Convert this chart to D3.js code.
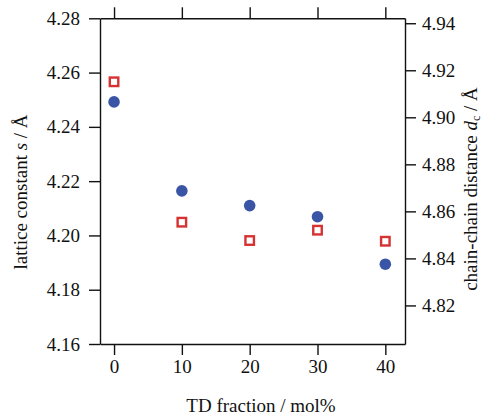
<!DOCTYPE html>
<html>
<head>
<meta charset="utf-8">
<script src="https://cdn.jsdelivr.net/npm/d3@7"></script>
<style>
  body { margin: 0; background: #fff; }
  text { font-family: "Liberation Serif", "Times New Roman", serif; fill: #111; }
</style>
</head>
<body>
<div id="chart"></div>
<script>
// TD fraction (mol%)
const tdFraction = [0, 10, 20, 30, 40];
// lattice constant s (Å), left axis
const latticeS = [4.2492, 4.2164, 4.2110, 4.2069, 4.1894];
// chain-chain distance d_c (Å), right axis
const chainDc = [4.9151, 4.8554, 4.8476, 4.8520, 4.8473];

const xTicks = [0, 10, 20, 30, 40];
const leftTicks = [4.16, 4.18, 4.20, 4.22, 4.24, 4.26, 4.28];
const rightTicks = [4.82, 4.84, 4.86, 4.88, 4.90, 4.92, 4.94];

const xDomain = [-2.07, 42.9];
const leftDomain = [4.16, 4.28];
const rightDomain = [4.8036, 4.9421];

const width = 485, height = 415;
const margin = {top: 18.3, right: 80, bottom: 71, left: 100};

const svg = d3.select("#chart").append("svg")
    .attr("width", width)
    .attr("height", height);

const x = d3.scaleLinear().domain(xDomain).range([margin.left, width - margin.right]);
const yL = d3.scaleLinear().domain(leftDomain).range([height - margin.bottom, margin.top]);
const yR = d3.scaleLinear().domain(rightDomain).range([height - margin.bottom, margin.top]);

const fontSize = 19;
const stroke = "#111";

function styleAxis(g) {
    g.selectAll("text").style("font-size", fontSize + "px").style("font-family", "Liberation Serif");
    g.selectAll("line, path").attr("stroke", stroke).attr("stroke-width", 1.4);
}

svg.append("g")
    .attr("transform", `translate(0,${height - margin.bottom})`)
    .call(d3.axisBottom(x).tickValues(xTicks).tickSize(11).tickPadding(4.5).tickSizeOuter(0))
    .call(styleAxis);

svg.append("g")
    .attr("transform", `translate(0,${margin.top})`)
    .call(d3.axisTop(x).tickValues(xTicks).tickSize(11).tickSizeOuter(0).tickFormat(""))
    .call(styleAxis);

svg.append("g")
    .attr("transform", `translate(${margin.left},0)`)
    .call(d3.axisLeft(yL).tickValues(leftTicks).tickSize(11).tickPadding(9).tickSizeOuter(0).tickFormat(d3.format(".2f")))
    .call(styleAxis);

svg.append("g")
    .attr("transform", `translate(${width - margin.right},0)`)
    .call(d3.axisRight(yR).tickValues(rightTicks).tickSize(11).tickPadding(6).tickSizeOuter(0).tickFormat(d3.format(".2f")))
    .call(styleAxis);

// markers
svg.append("g").selectAll("circle")
    .data(tdFraction)
    .enter().append("circle")
    .attr("cx", d => x(d))
    .attr("cy", (d, i) => yL(latticeS[i]))
    .attr("r", 5.8)
    .attr("fill", "#3a55a6");

const sq = 8.5;
svg.append("g").selectAll("rect")
    .data(tdFraction)
    .enter().append("rect")
    .attr("x", d => x(d) - sq / 2)
    .attr("y", (d, i) => yR(chainDc[i]) - sq / 2)
    .attr("width", sq)
    .attr("height", sq)
    .attr("fill", "#fff")
    .attr("stroke", "#d63232")
    .attr("stroke-width", 2.4);

// axis titles
svg.append("text")
    .attr("x", 261)
    .attr("y", 412)
    .attr("text-anchor", "middle")
    .style("font-size", fontSize + "px")
    .text("TD fraction / mol%");

const lt = svg.append("text")
    .attr("transform", "translate(27,192) rotate(-90)")
    .attr("text-anchor", "middle")
    .style("font-size", fontSize + "px");
lt.append("tspan").text("lattice constant ");
lt.append("tspan").style("font-style", "italic").text("s");
lt.append("tspan").text(" / Å");

const rt = svg.append("text")
    .attr("transform", "translate(477,189) rotate(-90)")
    .attr("text-anchor", "middle")
    .style("font-size", fontSize + "px");
rt.append("tspan").text("chain-chain distance ");
rt.append("tspan").style("font-style", "italic").text("d");
rt.append("tspan").attr("dy", 3).style("font-size", "12px").text("c");
rt.append("tspan").attr("dy", -3).text(" / Å");
</script>
</body>
</html>
